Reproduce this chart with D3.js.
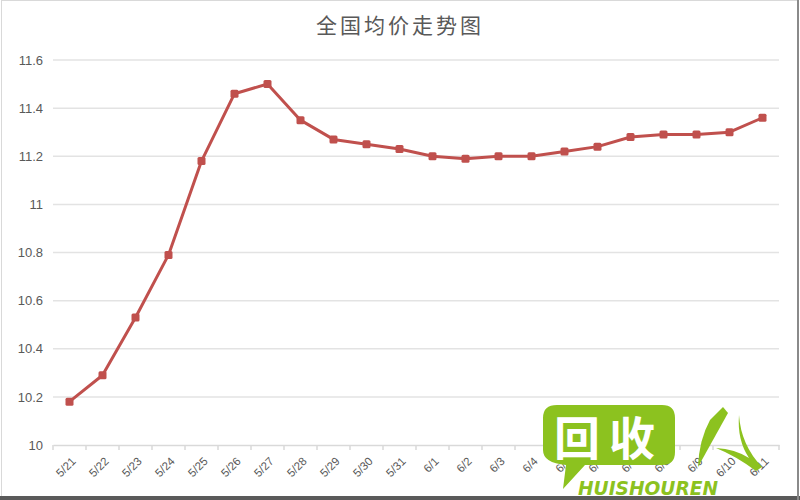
<!DOCTYPE html>
<html><head><meta charset="utf-8">
<script src="https://cdn.jsdelivr.net/npm/d3@7"></script>
<style>body{margin:0;background:#fff}svg{display:block}</style>
</head><body>
<svg id="c" width="800" height="500"></svg>
<script>
const title = "全国均价走势图";
const categories = ["5/21","5/22","5/23","5/24","5/25","5/26","5/27","5/28","5/29","5/30","5/31",
  "6/1","6/2","6/3","6/4","6/5","6/6","6/7","6/8","6/9","6/10","6/11"];
const values = [10.18,10.29,10.53,10.79,11.18,11.46,11.50,11.35,11.27,11.25,11.23,
  11.20,11.19,11.20,11.20,11.22,11.24,11.28,11.29,11.29,11.30,11.36];
const yTicks = [10,10.2,10.4,10.6,10.8,11,11.2,11.4,11.6];

const svg = d3.select("#c");
const W = 800, H = 500;
const m = {left:53, right:21, top:60, bottom:55};

// frame
svg.append("rect").attr("x",1.5).attr("y",0.5).attr("width",W-3).attr("height",H-2)
  .attr("fill","#fff").attr("stroke","#d9d9d9");

const x = d3.scaleBand().domain(categories).range([m.left, W-m.right]);
const y = d3.scaleLinear().domain([10,11.6]).range([H-m.bottom, m.top]);

// gridlines
svg.append("g").selectAll("line").data(yTicks.slice(1)).join("line")
  .attr("x1",m.left).attr("x2",W-m.right)
  .attr("y1",d=>y(d)).attr("y2",d=>y(d))
  .attr("stroke","#e3e3e3").attr("stroke-width",1.5);

// y axis labels
const yAxis = d3.axisLeft(y).tickValues(yTicks).tickSize(0).tickPadding(10)
  .tickFormat(d=>String(+d.toFixed(1)));
const gy = svg.append("g").attr("transform",`translate(${m.left},0)`).call(yAxis);
gy.select(".domain").remove();
gy.selectAll("text").attr("fill","#595959").attr("font-size",13)
  .attr("font-family","Liberation Sans, Arial, sans-serif");

// x axis
const xAxis = d3.axisBottom(x).tickSize(0).tickPadding(0);
const gx = svg.append("g").attr("transform",`translate(0,${H-m.bottom})`).call(xAxis);
gx.select(".domain").attr("stroke","#d9d9d9").attr("stroke-width",1.5);
gx.selectAll(".tick text").attr("fill","#595959").attr("font-size",11.5)
  .attr("font-family","Liberation Sans, Arial, sans-serif")
  .attr("text-anchor","end").attr("dy",0)
  .attr("transform","translate(7,17) rotate(-45)");
// tick marks at band boundaries
const bounds = categories.map(c=>x(c)).concat([x(categories[categories.length-1])+x.bandwidth()]);
svg.append("g").selectAll("line").data(bounds).join("line")
  .attr("x1",d=>d).attr("x2",d=>d).attr("y1",H-m.bottom).attr("y2",H-m.bottom+5)
  .attr("stroke","#d9d9d9").attr("stroke-width",1.5);

// title
svg.append("text").attr("x",400).attr("y",33).attr("text-anchor","middle")
  .attr("font-size",21).attr("letter-spacing",3).attr("fill","#595959")
  .attr("font-family","Noto Sans CJK SC, sans-serif").text(title);

// line
const cx = d=>x(d.c)+x.bandwidth()/2;
const pts = categories.map((c,i)=>({c, v:values[i]}));
svg.append("path").datum(pts)
  .attr("d", d3.line().x(cx).y(d=>y(d.v)))
  .attr("fill","none").attr("stroke","#c0504d").attr("stroke-width",3)
  .attr("stroke-linejoin","round");
svg.append("g").selectAll("rect").data(pts).join("rect")
  .attr("x",d=>cx(d)-4).attr("y",d=>y(d.v)-4).attr("width",8).attr("height",8)
  .attr("rx",1.5).attr("fill","#c0504d");

// watermark
const wm = svg.append("g");
const G = "#8cc21f";
wm.append("path").attr("fill",G)
  .attr("d","M557,405 H662 Q675,405 675,418 V452 Q675,465 662,465 H585 L563,489 L566,465 Q543,463 543,450 V418 Q543,405 557,405 Z");
wm.append("text").attr("x",577).attr("y",455).attr("text-anchor","middle")
  .attr("font-size",46).attr("font-weight","bold").attr("fill","#fff")
  .attr("font-family","Noto Sans CJK SC, sans-serif").text("回");
wm.append("text").attr("x",632).attr("y",455).attr("text-anchor","middle")
  .attr("font-size",46).attr("font-weight","bold").attr("fill","#fff")
  .attr("font-family","Noto Sans CJK SC, sans-serif").text("收");
wm.append("text").attr("x",578).attr("y",495).attr("textLength",140)
  .attr("lengthAdjust","spacingAndGlyphs")
  .attr("font-size",20).attr("font-weight","bold").attr("font-style","italic")
  .attr("fill",G).attr("font-family","DejaVu Sans, sans-serif").text("HUISHOUREN");
wm.append("path").attr("fill",G)
  .attr("d","M723,407 L728,413 Q713,440 698,467 Q699,440 710,420 Z");
wm.append("path").attr("fill",G)
  .attr("d","M739,415 Q741,445 762,467 L756,471 Q736,456 716,448 Q735,449 749,458 Q737,440 739,415 Z");

// bottom / right frame edges
svg.append("line").attr("x1",0).attr("x2",W).attr("y1",H-2).attr("y2",H-2)
  .attr("stroke","#5a5a5a").attr("stroke-width",4);
svg.append("line").attr("x1",W-2).attr("x2",W-2).attr("y1",0).attr("y2",H)
  .attr("stroke","#8a8a8a").attr("stroke-width",2);
</script>
</body></html>
